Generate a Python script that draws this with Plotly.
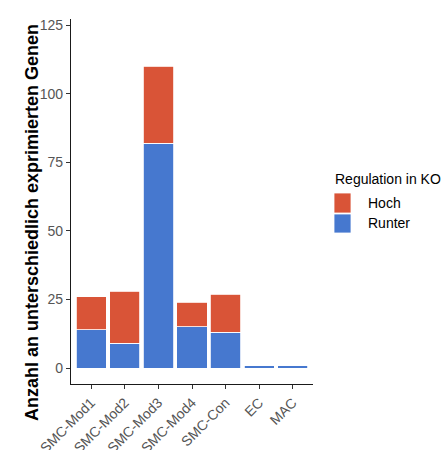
import plotly.graph_objects as go

# Cell types and number of differentially expressed genes per direction
categories = ["SMC-Mod1", "SMC-Mod2", "SMC-Mod3", "SMC-Mod4", "SMC-Con", "EC", "MAC"]
runter = [14, 9, 82, 15, 13, 1, 1]
hoch = [12, 19, 28, 9, 14, 0, 0]
y_ticks = [0, 25, 50, 75, 100, 125]

COL_HOCH = "#D95437"
COL_RUNTER = "#4678CF"
FONT = "Liberation Sans, Arial, sans-serif"

W, H = 447, 450
L, R, T, B = 71, 134, 19, 66
PW, PH = W - L - R, H - T - B


def px(x):
    return (x - L) / PW


def py(y):
    return (H - B - y) / PH


fig = go.Figure()
fig.add_bar(x=categories, y=runter, name="Runter", marker_color=COL_RUNTER,
            marker_line=dict(color="white", width=0.8), showlegend=False)
fig.add_bar(x=categories, y=hoch, name="Hoch", marker_color=COL_HOCH,
            marker_line=dict(color="white", width=0.8), showlegend=False)

axis_common = dict(
    showline=True, linecolor="#1a1a1a", linewidth=1.1,
    ticks="outside", ticklen=4, tickcolor="#333333", tickwidth=1,
    tickfont=dict(family=FONT, size=14, color="#555555"),
    showgrid=False, zeroline=False, automargin=False,
)

fig.update_layout(
    width=W, height=H,
    margin=dict(l=L, r=R, t=T, b=B),
    paper_bgcolor="white", plot_bgcolor="white",
    barmode="stack", bargap=0.1,
    xaxis=dict(range=[-0.6, 6.6], tickangle=-45, **axis_common),
    yaxis=dict(range=[-5.8, 127.3], tickvals=y_ticks, **axis_common),
    font=dict(family=FONT),
)

# Axis title
fig.add_annotation(
    text="<b>Anzahl an unterschiedlich exprimierten Genen</b>",
    xref="paper", yref="paper", x=px(20), y=py(223),
    textangle=-90, showarrow=False,
    font=dict(family=FONT, size=18, color="black"),
)

# Legend
fig.add_annotation(
    text="Regulation in KO", xref="paper", yref="paper",
    x=px(333), y=py(179), xanchor="left", yanchor="middle", showarrow=False,
    font=dict(family=FONT, size=14, color="black"),
)
legend_items = [("Hoch", COL_HOCH, 193, 213), ("Runter", COL_RUNTER, 214, 233)]
for label, col, y0, y1 in legend_items:
    fig.add_shape(type="rect", xref="paper", yref="paper",
                  x0=px(334), x1=px(351), y0=py(y1), y1=py(y0),
                  fillcolor=col, line=dict(color="white", width=0.8))
    fig.add_annotation(
        text=label, xref="paper", yref="paper",
        x=px(366), y=py((y0 + y1) / 2 - 0.5), xanchor="left", yanchor="middle",
        showarrow=False, font=dict(family=FONT, size=14, color="black"),
    )

fig.write_html("out.html")
